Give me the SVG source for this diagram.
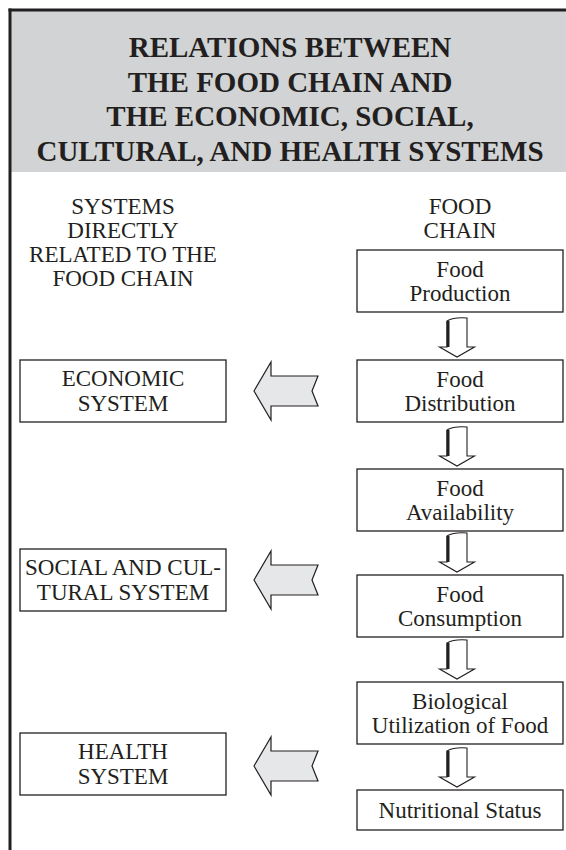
<svg xmlns="http://www.w3.org/2000/svg" width="566" height="850" viewBox="0 0 566 850">
  <style>
    .title { font-weight: bold; font-size: 29px; fill: #231f20; text-anchor: middle; }
    .lbl { font-size: 23px; fill: #231f20; text-anchor: middle; }
    .box { fill: #ffffff; stroke: #231f20; stroke-width: 1.3; }
    .side { fill: #e6e7e8; stroke: #231f20; stroke-width: 1.2; stroke-linejoin: miter; }
    .down { fill: #ffffff; stroke: #231f20; stroke-width: 1.1; }
    .downedge { stroke: #231f20; stroke-width: 3; fill: none; }
  </style>
  <defs>
    <!-- wide left-pointing block arrow, tip at origin -->
    <path id="leftArrow" class="side" d="M0,0 L17,-29 L17,-15 L64,-15 L58,0 L64,15 L17,15 L17,29 Z"/>
    <!-- narrow downward outline arrow, tip at origin -->
    <g id="downArrow">
      <path class="down" d="M-10,-36 Q-3,-40 10,-39 L10,-10 L17.5,-10 L0,0 L-17.5,-10 L-10,-10 Z"/>
      <line class="downedge" x1="-9" y1="-36" x2="-9" y2="-10"/>
    </g>
  </defs>

  <!-- frame and header band -->
  <rect x="10" y="10" width="560" height="162" fill="#d1d3d4"/>
  <line x1="8.5" y1="10" x2="566" y2="10" stroke="#231f20" stroke-width="3"/>
  <line x1="10" y1="8.5" x2="10" y2="850" stroke="#231f20" stroke-width="3"/>

  <g font-family="Liberation Serif, DejaVu Serif, serif">
  <g id="title">
    <text class="title" x="290" y="57">RELATIONS BETWEEN</text>
    <text class="title" x="290" y="92">THE FOOD CHAIN AND</text>
    <text class="title" x="290" y="126">THE ECONOMIC, SOCIAL,</text>
    <text class="title" x="290" y="161">CULTURAL, AND HEALTH SYSTEMS</text>
  </g>

  <g id="header-systems">
    <text class="lbl" x="123" y="214">SYSTEMS</text>
    <text class="lbl" x="123" y="238">DIRECTLY</text>
    <text class="lbl" x="123" y="262">RELATED TO THE</text>
    <text class="lbl" x="123" y="286">FOOD CHAIN</text>
  </g>
  <g id="header-chain">
    <text class="lbl" x="460" y="214">FOOD</text>
    <text class="lbl" x="460" y="238">CHAIN</text>
  </g>

  <!-- food chain column -->
  <g id="food-production">
    <rect class="box" x="357" y="250" width="206" height="62"/>
    <text class="lbl" x="460" y="277">Food</text>
    <text class="lbl" x="460" y="301">Production</text>
  </g>
  <g id="food-distribution">
    <rect class="box" x="357" y="360" width="206" height="62"/>
    <text class="lbl" x="460" y="387">Food</text>
    <text class="lbl" x="460" y="411">Distribution</text>
  </g>
  <g id="food-availability">
    <rect class="box" x="357" y="469" width="206" height="62"/>
    <text class="lbl" x="460" y="496">Food</text>
    <text class="lbl" x="460" y="520">Availability</text>
  </g>
  <g id="food-consumption">
    <rect class="box" x="357" y="575" width="206" height="62"/>
    <text class="lbl" x="460" y="602">Food</text>
    <text class="lbl" x="460" y="626">Consumption</text>
  </g>
  <g id="biological-utilization">
    <rect class="box" x="357" y="682" width="206" height="62"/>
    <text class="lbl" x="460" y="709">Biological</text>
    <text class="lbl" x="460" y="733">Utilization of Food</text>
  </g>
  <g id="nutritional-status">
    <rect class="box" x="357" y="790" width="206" height="40"/>
    <text class="lbl" x="460" y="818">Nutritional Status</text>
  </g>

  <!-- related systems column -->
  <g id="economic-system">
    <rect class="box" x="20" y="360" width="206" height="62"/>
    <text class="lbl" x="123" y="386">ECONOMIC</text>
    <text class="lbl" x="123" y="411">SYSTEM</text>
  </g>
  <g id="social-cultural-system">
    <rect class="box" x="20" y="549" width="206" height="62"/>
    <text class="lbl" x="123" y="575">SOCIAL AND CUL-</text>
    <text class="lbl" x="123" y="600">TURAL SYSTEM</text>
  </g>
  <g id="health-system">
    <rect class="box" x="20" y="733" width="206" height="62"/>
    <text class="lbl" x="123" y="759">HEALTH</text>
    <text class="lbl" x="123" y="784">SYSTEM</text>
  </g>
  </g>

  <g id="connectors">
    <use href="#downArrow" x="457" y="357"/>
    <use href="#downArrow" x="457" y="466"/>
    <use href="#downArrow" x="457" y="572"/>
    <use href="#downArrow" x="457" y="679"/>
    <use href="#downArrow" x="457" y="787"/>
    <use href="#leftArrow" x="254" y="391"/>
    <use href="#leftArrow" x="254" y="580"/>
    <use href="#leftArrow" x="254" y="766"/>
  </g>
</svg>
